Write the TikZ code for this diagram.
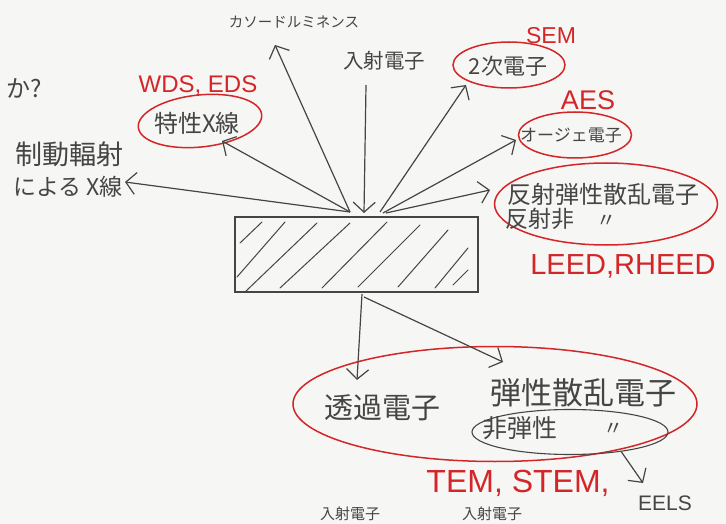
\documentclass[tikz,border=0pt]{standalone}
\usepackage{fontspec}
\newfontfamily\jpf{Noto Sans CJK JP}
\newfontfamily\latf{Liberation Sans}
\usetikzlibrary{arrows.meta,shapes.geometric}
\definecolor{pencil}{HTML}{454545}
\definecolor{redpen}{HTML}{D42628}
\definecolor{paper}{HTML}{F6F6F4}
\begin{document}
\begin{tikzpicture}[x=1pt,y=-1pt,
  jt/.style={text=pencil,inner sep=0pt,font={\jpf\fontsize{#1}{#1}\selectfont}},
  rl/.style={text=redpen,inner sep=0pt,font={\latf\fontsize{#1}{#1}\selectfont}},
  pl/.style={text=pencil,inner sep=0pt,font={\latf\fontsize{#1}{#1}\selectfont}},
  redov/.style={draw=redpen,line width=1.5pt,ellipse,inner sep=0pt},
  grayov/.style={draw=pencil,line width=1.1pt,ellipse,inner sep=0pt},
  arr/.style={draw=pencil,line width=1.2pt,-{Straight Barb[length=10pt,width=22pt]}},
  hatch/.style={draw=pencil,line width=1pt,line cap=round}]
\fill[paper] (0,0) rectangle (726,524);
\useasboundingbox (0,0) rectangle (726,524);

% sample
\node[draw=pencil,line width=1.2pt,minimum width=243pt,minimum height=75pt,inner sep=0pt] (sample) at (356.5,254.5) {};
\draw[hatch] (240,243) -- (262,222);
\draw[hatch] (237,277) -- (285,222);
\draw[hatch] (245,292) -- (317,223);
\draw[hatch] (280,288) -- (350,223);
\draw[hatch] (322,288) -- (387,222);
\draw[hatch] (358,287) -- (420,225);
\draw[hatch] (398,287) -- (448,230);
\draw[hatch] (435,288) -- (468,248);
\draw[hatch] (453,285) -- (468,270);

% texts
\node[jt=24] (ka) at (24,88) {か?};
\node[jt=14.5] (cath) at (294,22) {カソードルミネンス};
\node[jt=20.5] (inc) at (384,61) {入射電子};

\node[rl=23] (sem) at (551,36) {SEM};
\node[redov,minimum width=112pt,minimum height=46pt] (secov) at (509,65) {};
\node[jt=22] (sec) at (508,66) {2次電子};

\node[rl=27] (aes) at (588,100) {AES};
\node[redov,minimum width=113pt,minimum height=46pt] (augov) at (575,135) {};
\node[jt=17] (aug) at (571,135) {オージェ電子};

\node[rl=24] (wds) at (198,86) {WDS, EDS};
\node[redov,minimum width=124pt,minimum height=52pt,rotate=6] (charov) at (200,121) {};
\node[jt=24] (char) at (197,123) {特性X線};

\node[jt=27] (brem1) at (70,154) {制動輻射};
\node[jt=23] (brem2) at (68,187) {による X線};

\node[redov,minimum width=223pt,minimum height=82pt] (reflov) at (606,204) {};
\node[jt=24] (refl) at (603,194) {反射弾性散乱電子};
\node[jt=23] (refl2) at (540,219) {反射非};
\node[jt=20] (ditto1) at (606,221) {〃};
\node[rl=29] (leed) at (623,266) {LEED,RHEED};

\node[redov,minimum width=404pt,minimum height=115pt] (bigov) at (495,404) {};
\node[jt=29] (trans) at (382,408) {透過電子};
\node[jt=31] (elas) at (583,393) {弾性散乱電子};
\node[grayov,minimum width=196pt,minimum height=45pt] (inelov) at (570,432) {};
\node[jt=25] (inel) at (520,428) {非弾性};
\node[jt=20] (ditto2) at (613,429) {〃};
\node[rl=32] (tem) at (518,483) {TEM, STEM,};
\node[pl=21] (eels) at (665,503) {EELS};

\node[jt=15] (inc2) at (350,514) {入射電子};
\node[jt=15] (inc3) at (492,514) {入射電子};

% coordinates
\coordinate (impL) at (350,212);
\coordinate (impC) at (364,213);
\coordinate (impR1) at (380,212);
\coordinate (impR2) at (383,213);
\coordinate (impR3) at (386,213);
\coordinate (incS) at (366,85);
\coordinate (botA) at (362,294);
\coordinate (botB) at (364,297);
\coordinate (tCath) at (275,45);
\coordinate (tChar) at (222,141);
\coordinate (tBrem) at (125,182);
\coordinate (tSec) at (466,85);
\coordinate (tAug) at (516,140);
\coordinate (tRefl) at (490,190);
\coordinate (tTrans) at (357,380);
\coordinate (tElas) at (503,362);
\coordinate (tEels) at (643,483);

% connectors
\draw[arr] (incS) -- (impC);
\draw[arr] (impL) -- (tCath);
\draw[arr] (impL) -- (tChar);
\draw[arr] (impL) -- (tBrem);
\draw[arr] (impR1) -- (tSec);
\draw[arr] (impR2) -- (tAug);
\draw[arr] (impR3) -- (tRefl);
\draw[arr] (botA) -- (tTrans);
\draw[arr] (botB) -- (tElas);
\draw[arr] (inelov.-21) -- (tEels);
\end{tikzpicture}
\end{document}
